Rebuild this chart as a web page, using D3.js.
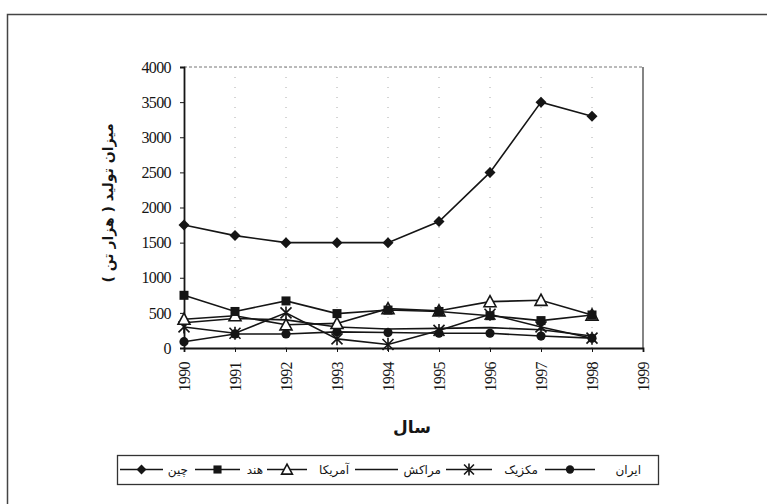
<!DOCTYPE html>
<html><head><meta charset="utf-8">
<script src="https://cdn.jsdelivr.net/npm/d3@7"></script>
<style>body{margin:0;background:#fff}svg{display:block}</style>
</head><body>
<svg id="c" width="767" height="504"></svg>
<script>
const years = ["1990","1991","1992","1993","1994","1995","1996","1997","1998","1999"];
const yTicks = [0,500,1000,1500,2000,2500,3000,3500,4000];
const china   = [1750,1600,1500,1500,1500,1800,2500,3500,3300];
const india   = [750,520,670,490,540,520,460,390,470];
const america = [410,460,330,350,560,530,660,680,470];
const morocco = [360,420,400,300,270,280,290,260,170];
const mexico  = [300,210,500,130,50,250,480,300,140];
const iran    = [90,200,200,230,220,210,210,170,140];
const seriesNames = ["چین","هند","آمریکا","مراکش","مکزیک","ایران"];
const seriesMarkers = ["diamond","square","triangle","none","star","circle"];
const seriesData = [china,india,america,morocco,mexico,iran];
const yTitle = "میزان تولید ( هزار تن )";
const xTitle = "سال";

const svg = d3.select("#c");
const ink = "#151515";
const L=184,R=643,T=67,B=348;
const x = d3.scalePoint().domain(years).range([L,R]);
const y = d3.scaleLinear().domain([0,4000]).range([B,T]);

// outer frame
svg.append("rect").attr("x",7.5).attr("y",14.5).attr("width",800).attr("height",600)
  .attr("fill","none").attr("stroke","#444").attr("stroke-width",1.5);

// vertical dotted grid
svg.append("g").selectAll("line").data(years.slice(1,-1)).join("line")
  .attr("x1",d=>x(d)).attr("x2",d=>x(d)).attr("y1",T).attr("y2",B)
  .attr("stroke","#aaa").attr("stroke-dasharray","1,9");
svg.append("line").attr("x1",L).attr("x2",R).attr("y1",T).attr("y2",T)
  .attr("stroke","#777").attr("stroke-dasharray","3,2");
svg.append("line").attr("x1",R).attr("x2",R).attr("y1",T).attr("y2",B)
  .attr("stroke","#333").attr("stroke-width",1.2);

// axes
const numFont = "'Liberation Serif', serif";
const ya = svg.append("g").attr("transform",`translate(${L},0)`)
  .call(d3.axisLeft(y).tickValues(yTicks).tickSize(4).tickPadding(9).tickFormat(d3.format("d")));
ya.select(".domain").attr("stroke",ink).attr("stroke-width",1.8);
ya.selectAll("line").attr("stroke",ink);
ya.selectAll("text").attr("font-family",numFont).attr("font-size",16).attr("fill",ink)
  .attr("letter-spacing","-0.6");

const xa = svg.append("g").attr("transform",`translate(0,${B})`)
  .call(d3.axisBottom(x).tickSize(4).tickPadding(0));
xa.select(".domain").attr("stroke",ink).attr("stroke-width",1.8);
xa.selectAll("line").attr("stroke",ink);
xa.selectAll("text").attr("font-family",numFont).attr("font-size",16).attr("fill",ink)
  .attr("letter-spacing","-0.6")
  .attr("text-anchor","end").attr("dy","0.35em")
  .attr("transform","translate(0,14) rotate(-90)").attr("x",0).attr("y",0);

// titles
svg.append("text").attr("transform","translate(113,203) rotate(-90)")
  .attr("text-anchor","middle").attr("font-family","'DejaVu Sans', sans-serif")
  .attr("font-size",14).attr("font-weight","bold").attr("fill",ink).text(yTitle);
svg.append("text").attr("x",412).attr("y",433).attr("text-anchor","middle")
  .attr("font-family","'DejaVu Sans', sans-serif").attr("font-size",17)
  .attr("font-weight","bold").attr("fill",ink).text(xTitle);

function diamondPath(cx,cy,r){return `M${cx},${cy-r}L${cx+r},${cy}L${cx},${cy+r}L${cx-r},${cy}Z`;}
function marker(g,type,cx,cy,sc){
  sc=sc||1;
  if(type==="diamond"){
    g.append("path").attr("d",diamondPath(cx,cy,5.5*sc)).attr("fill",ink);
  } else if(type==="square"){
    const h=4.5*sc;
    g.append("rect").attr("x",cx-h).attr("y",cy-h).attr("width",2*h).attr("height",2*h).attr("fill",ink);
  } else if(type==="triangle"){
    const s=6*sc;
    g.append("path").attr("d",`M${cx},${cy-s}L${cx+s},${cy+s*0.85}L${cx-s},${cy+s*0.85}Z`)
      .attr("fill","#fff").attr("stroke",ink).attr("stroke-width",1.6);
  } else if(type==="star"){
    const s=5.5*sc;
    g.append("path").attr("d",`M${cx-s},${cy-s}L${cx+s},${cy+s}M${cx-s},${cy+s}L${cx+s},${cy-s}M${cx},${cy-s-1}L${cx},${cy+s+1}`)
      .attr("stroke",ink).attr("stroke-width",1.6).attr("fill","none");
  } else if(type==="circle"){
    g.append("circle").attr("cx",cx).attr("cy",cy).attr("r",4.6*sc).attr("fill",ink);
  }
}

const line = d3.line().x((d,i)=>x(years[i])).y(d=>y(d));
const order=[5,4,3,2,1,0];
order.forEach(k=>{
  svg.append("path").datum(seriesData[k]).attr("d",line).attr("fill","none")
    .attr("stroke",ink).attr("stroke-width",1.6);
});
order.forEach(k=>{
  const g=svg.append("g");
  seriesData[k].forEach((v,i)=>marker(g,seriesMarkers[k],x(years[i]),y(v)));
});

// legend
const lg = svg.append("g");
lg.append("rect").attr("x",117.5).attr("y",455.5).attr("width",541).attr("height",29)
  .attr("fill","#fff").attr("stroke","#333").attr("stroke-width",1.3);
const ly=469.5;
const lineX=[120,195,267,355,446,545];
const lineW=[43,45,40,43,46,50];
const textX=[188,263,349,441,538,641];
seriesNames.forEach((nm,j)=>{
  const x0=lineX[j], x1=x0+lineW[j];
  lg.append("line").attr("x1",x0).attr("x2",x1).attr("y1",ly).attr("y2",ly)
    .attr("stroke",ink).attr("stroke-width",1.5);
  marker(lg,seriesMarkers[j],(x0+x1)/2,ly,0.9);
  lg.append("text").attr("x",textX[j]).attr("y",ly).attr("dy","0.35em")
    .attr("text-anchor","end").attr("font-family","'DejaVu Sans', sans-serif")
    .attr("font-size",12).attr("fill",ink).text(nm);
});
</script>
</body></html>
